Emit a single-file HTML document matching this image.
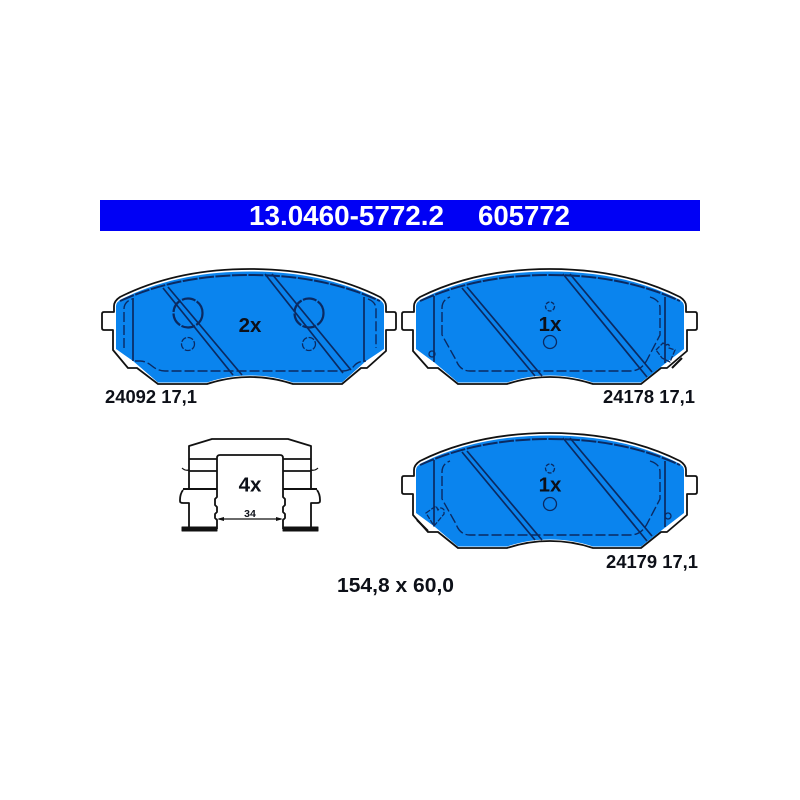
<!DOCTYPE html>
<html><head><meta charset="utf-8"><style>
html,body{margin:0;padding:0;background:#fff;width:800px;height:800px;overflow:hidden}
svg{display:block}
text{font-family:"Liberation Sans",sans-serif;font-weight:bold;fill:#0d1018}
</style></head><body>
<svg width="800" height="800" viewBox="0 0 800 800" xmlns="http://www.w3.org/2000/svg">
<rect width="800" height="800" fill="#fff"/>
<rect x="100" y="200" width="600" height="31" fill="#0000f5"/>
<text x="249" y="225" font-size="27.7" style="fill:#fff" textLength="195" lengthAdjust="spacingAndGlyphs">13.0460-5772.2</text>
<text x="478" y="225" font-size="27.7" style="fill:#fff" textLength="92" lengthAdjust="spacingAndGlyphs">605772</text>

<defs>
<g id="o1" fill="none" stroke="#111" stroke-width="1.8" stroke-linejoin="round">
<path d="M114 312H104Q102 312 102 314V328Q102 330 104 330H113V350L128 368H137L158 384H207C222 379 235 377 250 377C265 377 278 379 293 384H342L361 368H367L386 351V330H394Q396 330 396 328V314Q396 312 394 312H386V306Q386 301 380 297C340 277 295 269 250 269C205 269 160 277 120 297Q114 301 114 306Z" fill="#fff"/>
</g>
<g id="o2" fill="none" stroke="#111" stroke-width="1.8" stroke-linejoin="round">
<path d="M414 312H404Q402 312 402 314V328Q402 330 404 330H413V351L428 368H438L458 384H507C522 379 535 377 550 377C565 377 578 379 593 384H641L661 368H667L687 351V330H695Q697 330 697 328V314Q697 312 695 312H686V306Q686 301 680 297C640 277 595 269 550 269C505 269 460 277 420 297Q414 301 414 306Z" fill="#fff"/>
</g>
<path id="b2" d="M416 306Q416 302 422 299C462 279 505 271.500 550 271.500C595 271.500 638 279 678 299Q684 302 684 306V349L662 366L641 382.500H593C578 377.500 565 375.500 550 375.500C535 375.500 522 377.500 507 382.500H458L435 363L416 349Z" fill="#0a84ee"/>
<g id="d2" fill="none" stroke="#0a2a62" stroke-width="1.4">
<path d="M434 296V362M665 297V363" stroke-width="1.7"/>
<path d="M462 288L535 376M467 287L542 376M563 274L647 377M570 274L652 372" stroke-width="1.7"/>
<path d="M420 301C462 282 505 275 550 275C595 275 638 282 680 301" stroke-dasharray="15 1.500" stroke-width="2"/>
<path d="M442 335V308Q442 300 450 297M650 297Q660 300 660 308V335L648 358Q642 371 630 371H470Q460 371 456 360L442 335" stroke-dasharray="10 3"/>
</g>
</defs>

<!-- pad 1 -->
<use href="#o1"/>
<path d="M116 306Q116 302 122 299C162 279 205 271.500 250 271.500C295 271.500 338 279 378 299Q384 302 384 306V349L366 361L342 382.500H293C278 377.500 265 375.500 250 375.500C235 375.500 222 377.500 207 382.500H158L133 361L116 349Z" fill="#0a84ee"/>
<g fill="none" stroke="#0a2a62" stroke-width="1.7">
<path d="M133 298V361M364 297V362"/>
<path d="M163 288L233 375M168 287L242 375M265 274L343 373M272 274L351 370"/>
<path d="M120 301C162 282 205 275 250 275C295 275 338 282 380 301" stroke-dasharray="15 1.500" stroke-width="2"/>
<path d="M124 348V309Q124 302 132 299M368 299Q376 302 376 309V348M135 361H140Q146 361 152 366Q158 371 165 371H342Q350 371 354 366Q358 361 366 361" stroke-width="1.4" stroke-dasharray="10 3"/>
<circle cx="188" cy="313" r="14.500" stroke-width="2.200" stroke-dasharray="14 1.500"/>
<circle cx="309" cy="313" r="14.500" stroke-width="2.200" stroke-dasharray="14 1.500"/>
<circle cx="188" cy="344" r="6.500" stroke-width="1.300" stroke-dasharray="6 1.500"/>
<circle cx="309" cy="344" r="6.500" stroke-width="1.300" stroke-dasharray="6 1.500"/>
</g>
<text x="250" y="332" font-size="20.500" text-anchor="middle">2x</text>
<text x="105" y="403" font-size="18" textLength="92" lengthAdjust="spacingAndGlyphs">24092 17,1</text>

<!-- pad 2 -->
<use href="#o2"/>
<use href="#b2"/>
<use href="#d2"/>
<g fill="none" stroke="#0a2a62" stroke-width="1.300">
<circle cx="550" cy="306.500" r="4.500" stroke-dasharray="4 1.500"/>
<circle cx="550" cy="342" r="6.500"/>
<circle cx="432" cy="354" r="3"/>
<path d="M656 350L663 343L666 345Q670 343 669 348L675 350L670 362L662 358Z" stroke-dasharray="5 1.500"/>
<path d="M672 368L682 358" stroke="#111" stroke-width="2"/>
</g>
<text x="550" y="331" font-size="20.500" text-anchor="middle">1x</text>
<text x="603" y="403" font-size="18" textLength="92" lengthAdjust="spacingAndGlyphs">24178 17,1</text>

<!-- pad 3 -->
<use href="#o2" y="164"/>
<use href="#b2" y="164"/>
<use href="#d2" y="164"/>
<g fill="none" stroke="#0a2a62" stroke-width="1.300">
<circle cx="550" cy="468.500" r="4.500" stroke-dasharray="4 1.500"/>
<circle cx="550" cy="504" r="6.500"/>
<circle cx="668" cy="516" r="3"/>
<path d="M426 513L436 506L438 510Q441 506 444 510L444 514L434 526Z" stroke-dasharray="5 1.500"/>
<path d="M417 520L428 531" stroke="#111" stroke-width="2"/>
</g>
<text x="550" y="491.500" font-size="20.500" text-anchor="middle">1x</text>
<text x="606" y="568" font-size="18" textLength="92" lengthAdjust="spacingAndGlyphs">24179 17,1</text>

<!-- clip -->
<g fill="none" stroke="#111" stroke-width="1.800" stroke-linejoin="round">
<path d="M189 459V446L212 439H288L311 446V459"/>
<path d="M189 459H217M311 459H283M189 471H217M311 471H283M189 459V489M311 459V489"/>
<path d="M182 468Q185 471 189 470M318 468Q315 471 311 470" stroke-width="1.200"/>
<path d="M183 489H217M317 489H283" stroke-width="2"/>
<path d="M183 490Q180 494 180 500V501Q180 503 183 503H189V528M317 490Q320 494 320 500V501Q320 503 317 503H311V528"/>
<path d="M217 458Q217 455 220 455H280Q283 455 283 458V497L285 499V505L283 507V512L285 514V518L283 520V529M217 458V497L215 499V505L217 507V512L215 514V518L217 520V529"/>
<path d="M182 527H217V531H182ZM283 527H318V531H283Z" fill="#111" stroke-width="1"/>
<path d="M219 519H281" stroke-width="1.200"/>
</g>
<path d="M217 519L224 517V521ZM283 519L276 517V521Z" fill="#111"/>
<text x="250" y="491.500" font-size="20.500" text-anchor="middle">4x</text>
<text x="250" y="517" font-size="10.500" text-anchor="middle">34</text>

<text x="337" y="592" font-size="20" textLength="117" lengthAdjust="spacingAndGlyphs">154,8 x 60,0</text>
</svg>
</body></html>
